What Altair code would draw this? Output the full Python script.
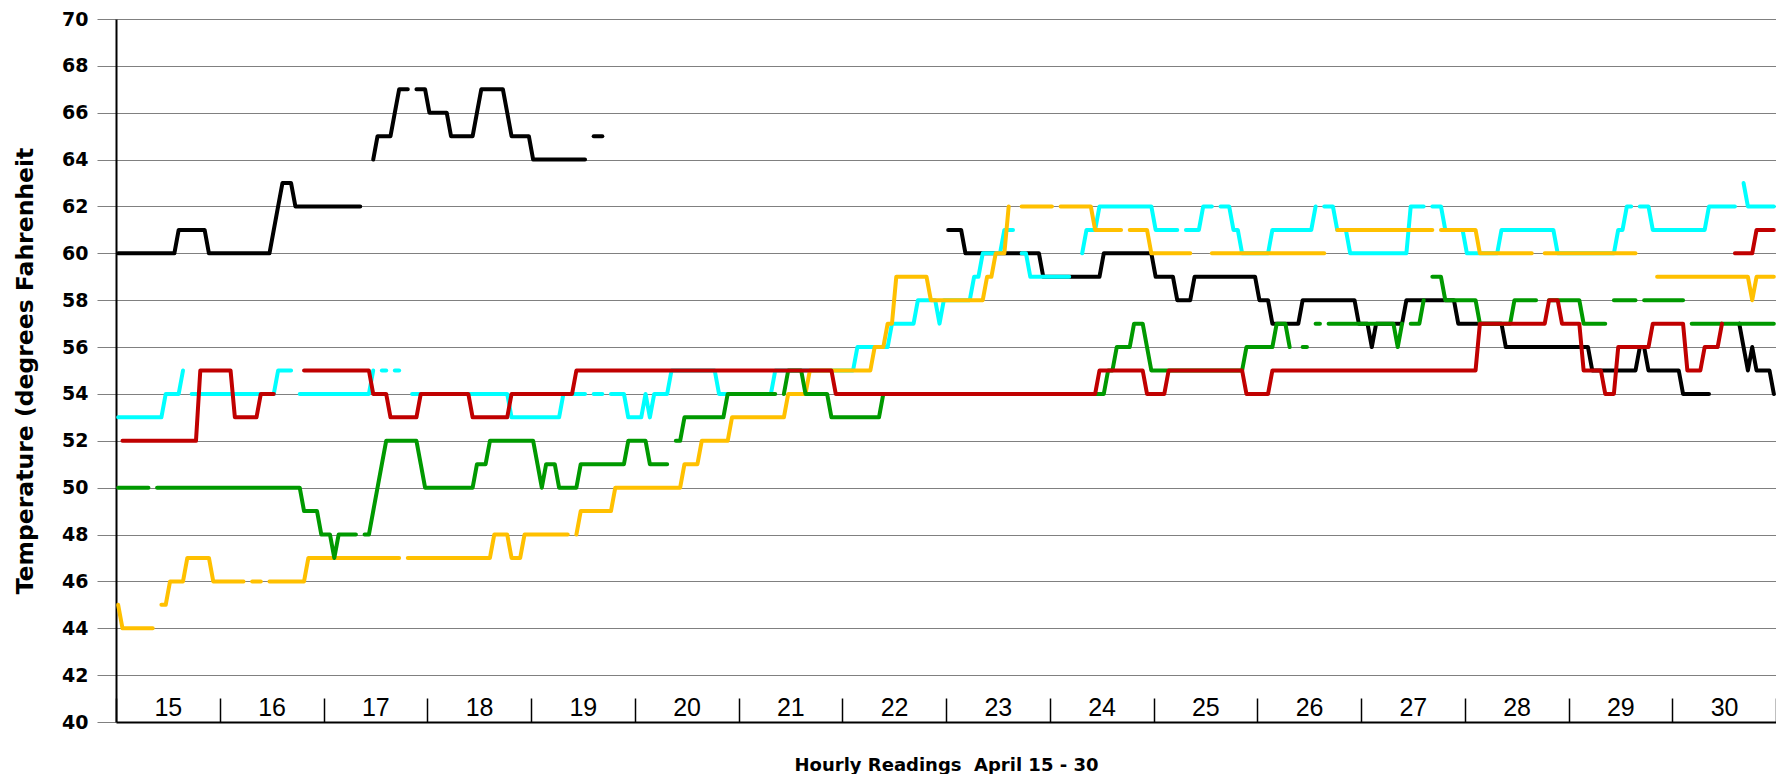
import altair as alt
import pandas as pd

N = None

DAYS = [15, 16, 17, 18, 19, 20, 21, 22, 23, 24, 25, 26, 27, 28, 29, 30]
Y_TICKS = [40, 42, 44, 46, 48, 50, 52, 54, 56, 58, 60, 62, 64, 66, 68, 70]

# Hourly readings, one row of 24 values per day (April 15 ... 30); None = missing reading
BLACK = [
    [60,60,60,60,60,60,60,60,60,60,60,60,60,60,61,61,61,61,61,61,61,60,60,60],
    [60,60,60,60,60,60,60,60,60,60,60,60,61,62,63,63,63,62,62,62,62,62,62,62],
    [62,62,62,62,62,62,62,62,62,N,N,64,65,65,65,65,66,67,67,67,N,67,67,67],
    [66,66,66,66,66,65,65,65,65,65,65,66,67,67,67,67,67,67,66,65,65,65,65,65],
    [64,64,64,64,64,64,64,64,64,64,64,64,64,N,65,65,65,N,N,N,N,N,N,N],
    [N,N,N,N,N,N,N,N,N,N,N,N,N,N,N,N,N,N,N,N,N,N,N,N],
    [N,N,N,N,N,N,N,N,N,N,N,N,N,N,N,N,N,N,N,N,N,N,N,N],
    [N,N,N,N,N,N,N,N,N,N,N,N,N,N,N,N,N,N,N,N,N,N,N,N],
    [61,61,61,61,60,60,60,60,60,60,60,60,60,60,60,60,60,60,60,60,60,60,59,59],
    [59,59,59,59,59,59,59,59,59,59,59,59,60,60,60,60,60,60,60,60,60,60,60,60],
    [59,59,59,59,59,58,58,58,58,59,59,59,59,59,59,59,59,59,59,59,59,59,59,59],
    [58,58,58,57,57,57,57,57,57,57,58,58,58,58,58,58,58,58,58,58,58,58,58,57],
    [57,57,56,57,57,57,57,57,57,57,58,58,58,58,58,58,58,58,58,58,58,58,57,57],
    [57,57,57,57,57,57,57,57,57,56,56,56,56,56,56,56,56,56,56,56,56,56,56,56],
    [56,56,56,56,56,55,55,55,55,55,55,55,55,55,55,55,56,56,55,55,55,55,55,55],
    [55,55,54,54,54,54,54,54,54,N,N,N,N,N,N,57,56,55,56,55,55,55,55,54],
]

CYAN = [
    [53,53,53,53,53,53,53,53,53,53,53,54,54,54,54,55,N,54,54,54,54,54,54,54],
    [54,54,54,54,54,54,54,54,54,54,54,54,54,55,55,55,55,N,54,54,54,54,54,54],
    [54,54,54,54,54,54,54,54,54,54,54,55,N,55,55,N,55,55,N,N,54,54,54,54],
    [54,54,54,54,54,54,54,54,54,54,54,54,54,54,54,54,54,54,54,53,53,53,53,53],
    [53,53,53,53,53,53,53,54,54,54,54,54,54,N,54,54,54,N,54,54,54,54,53,53],
    [53,53,54,53,54,54,54,54,55,55,55,55,55,55,55,55,55,55,55,54,54,54,54,54],
    [54,54,54,54,54,54,54,54,55,55,55,55,55,55,55,55,55,55,55,55,55,55,55,55],
    [55,55,55,56,56,56,56,56,56,56,56,57,57,57,57,57,57,58,58,58,58,58,57,58],
    [58,58,58,58,58,58,59,59,60,60,60,60,60,61,61,61,N,60,60,59,59,59,59,59],
    [59,59,59,59,59,N,N,60,61,61,61,62,62,62,62,62,62,62,62,62,62,62,62,62],
    [61,61,61,61,61,61,N,61,61,61,61,62,62,62,N,62,62,62,61,61,60,60,60,60],
    [60,60,60,61,61,61,61,61,61,61,61,61,61,62,N,62,62,62,61,61,61,60,60,60],
    [60,60,60,60,60,60,60,60,60,60,60,62,62,62,62,N,62,62,62,61,61,61,61,61],
    [60,60,60,60,60,60,60,60,61,61,61,61,61,61,61,61,61,61,61,61,61,60,60,60],
    [60,60,60,60,60,60,60,60,60,60,60,61,61,62,62,N,62,62,62,61,61,61,61,61],
    [61,61,61,61,61,61,61,61,62,62,62,62,62,62,62,N,63,62,62,62,62,62,62,62],
]

YELLOW = [
    [45,44,44,44,44,44,44,44,44,N,45,45,46,46,46,46,47,47,47,47,47,47,46,46],
    [46,46,46,46,46,46,N,46,46,46,N,46,46,46,46,46,46,46,46,46,47,47,47,47],
    [47,47,47,47,47,47,47,47,47,47,47,47,47,47,47,47,47,47,N,47,47,47,47,47],
    [47,47,47,47,47,47,47,47,47,47,47,47,47,47,47,48,48,48,48,47,47,47,48,48],
    [48,48,48,48,48,48,48,48,48,N,48,49,49,49,49,49,49,49,49,50,50,50,50,50],
    [50,50,50,50,50,50,50,50,50,50,50,51,51,51,51,52,52,52,52,52,52,52,53,53],
    [53,53,53,53,53,53,53,53,53,53,53,54,54,54,54,54,55,55,55,55,55,55,55,55],
    [55,55,55,55,55,55,55,56,56,56,57,57,59,59,59,59,59,59,59,59,58,58,58,58],
    [58,58,58,58,58,58,58,58,58,59,59,60,60,60,62,N,N,62,62,62,62,62,62,62],
    [62,N,62,62,62,62,62,62,62,62,61,61,61,61,61,61,61,N,61,61,61,61,61,60],
    [60,60,60,60,60,60,60,60,60,N,N,N,N,60,60,60,60,60,60,60,60,60,60,60],
    [60,60,60,60,60,60,60,60,60,60,60,60,60,60,60,60,N,N,61,61,61,61,61,61],
    [61,61,61,61,61,61,61,61,61,61,61,61,61,61,61,61,61,N,61,61,61,61,61,61],
    [61,61,61,60,60,60,60,60,60,60,60,60,60,60,60,60,N,N,60,60,60,60,60,60],
    [60,60,60,60,60,60,60,60,60,60,60,60,60,60,60,60,N,N,N,N,59,59,59,59],
    [59,59,59,59,59,59,59,59,59,59,59,59,59,59,59,59,59,59,58,59,59,59,59,59],
]

GREEN = [
    [50,50,50,50,50,50,50,50,N,50,50,50,50,50,50,50,50,50,50,50,50,50,50,50],
    [50,50,50,50,50,50,50,50,50,50,50,50,50,50,50,50,50,50,50,49,49,49,49,48],
    [48,48,47,48,48,48,48,48,N,48,48,49,50,51,52,52,52,52,52,52,52,52,51,50],
    [50,50,50,50,50,50,50,50,50,50,50,51,51,51,52,52,52,52,52,52,52,52,52,52],
    [52,51,50,51,51,51,50,50,50,50,50,51,51,51,51,51,51,51,51,51,51,51,52,52],
    [52,52,52,51,51,51,51,51,N,52,52,53,53,53,53,53,53,53,53,53,53,54,54,54],
    [54,54,54,54,54,54,54,54,54,N,54,55,55,55,55,54,54,54,54,54,54,53,53,53],
    [53,53,53,53,53,53,53,53,53,54,54,54,54,54,54,54,54,54,54,54,54,54,54,54],
    [54,54,54,54,54,54,54,54,54,54,54,54,54,54,54,54,54,54,54,54,54,54,54,54],
    [54,54,54,54,54,54,54,54,54,54,54,54,54,55,55,56,56,56,56,57,57,57,56,55],
    [55,55,55,55,55,55,55,55,55,55,55,55,55,55,55,55,55,55,55,55,55,56,56,56],
    [56,56,56,56,57,57,57,56,N,N,56,56,N,57,57,N,57,57,57,57,57,57,57,57],
    [57,57,57,57,57,57,57,57,56,57,N,57,57,57,58,N,59,59,59,58,58,58,58,58],
    [58,58,58,57,57,57,57,57,57,57,57,58,58,58,58,58,58,N,N,58,58,58,58,58],
    [58,58,58,57,57,57,57,57,57,N,58,58,58,58,58,58,N,58,58,58,58,58,58,58],
    [58,58,58,N,57,57,57,57,57,57,57,57,57,57,57,57,57,57,57,57,57,57,57,57],
]

RED = [
    [N,52,52,52,52,52,52,52,52,52,52,52,52,52,52,52,52,52,52,55,55,55,55,55],
    [55,55,55,53,53,53,53,53,53,54,54,54,54,N,N,N,N,N,N,55,55,55,55,55],
    [55,55,55,55,55,55,55,55,55,55,55,54,54,54,54,53,53,53,53,53,53,53,54,54],
    [54,54,54,54,54,54,54,54,54,54,53,53,53,53,53,53,53,53,53,54,54,54,54,54],
    [54,54,54,54,54,54,54,54,54,54,55,55,55,55,55,55,55,55,55,55,55,55,55,55],
    [55,55,55,55,55,55,55,55,55,55,55,55,55,55,55,55,55,55,55,55,55,55,55,55],
    [55,55,55,55,55,55,55,55,55,55,55,55,55,55,55,55,55,55,55,55,55,55,54,54],
    [54,54,54,54,54,54,54,54,54,54,54,54,54,54,54,54,54,54,54,54,54,54,54,54],
    [54,54,54,54,54,54,54,54,54,54,54,54,54,54,54,54,54,54,54,54,54,54,54,54],
    [54,54,54,54,54,54,54,54,54,54,54,55,55,55,55,55,55,55,55,55,55,55,54,54],
    [54,54,54,55,55,55,55,55,55,55,55,55,55,55,55,55,55,55,55,55,55,54,54,54],
    [54,54,54,55,55,55,55,55,55,55,55,55,55,55,55,55,55,55,55,55,55,55,55,55],
    [55,55,55,55,55,55,55,55,55,55,55,55,55,55,55,55,55,55,55,55,55,55,55,55],
    [55,55,55,57,57,57,57,57,57,57,57,57,57,57,57,57,57,57,57,58,58,58,57,57],
    [57,57,57,55,55,55,55,55,54,54,54,56,56,56,56,56,56,56,56,57,57,57,57,57],
    [57,57,57,55,55,55,55,56,56,56,56,57,N,N,60,60,60,60,60,61,61,61,61,61],
]

# drawing order: first is drawn at the bottom
SERIES = [
    ("black", BLACK, "#000000"),
    ("cyan", CYAN, "#00FFFF"),
    ("yellow", YELLOW, "#FFC000"),
    ("green", GREEN, "#009900"),
    ("red", RED, "#C00000"),
]

HOURS_PER_DAY = 24
for name, rows, _ in SERIES:
    assert len(rows) == len(DAYS), name
    for k, r in enumerate(rows):
        assert len(r) == HOURS_PER_DAY, (name, DAYS[k], len(r))


def to_frame(rows):
    """Long table of readings; a new path segment starts after each missing reading."""
    recs = []
    seg = 0
    gap = True
    flat = [v for r in rows for v in r]
    for i, v in enumerate(flat):
        if v is None:
            gap = True
            continue
        if gap:
            seg += 1
            gap = False
        recs.append({"hour": i + 0.5, "temp": v, "seg": seg})
    return pd.DataFrame(recs)


TOTAL = HOURS_PER_DAY * len(DAYS)
EDGES = [HOURS_PER_DAY * k for k in range(len(DAYS) + 1)]
CENTERS = [e + HOURS_PER_DAY // 2 for e in EDGES[:-1]]
X_VALUES = sorted(EDGES + CENTERS)

PLOT_W = 1660
PLOT_H = 703

x_scale = alt.Scale(domain=[0, TOTAL], nice=False, zero=False)
y_scale = alt.Scale(domain=[Y_TICKS[0], Y_TICKS[-1]], nice=False, zero=False)

label_expr = (
    f"datum.value % {HOURS_PER_DAY} == {HOURS_PER_DAY // 2} ? "
    f"'' + ({DAYS[0]} + floor(datum.value / {HOURS_PER_DAY})) : ''"
)

x_axis = alt.Axis(
    values=X_VALUES,
    orient="bottom",
    offset=-24,
    domain=False,
    grid=True,
    gridColor="#808080",
    gridWidth=1,
    gridOpacity=alt.condition(f"datum.value == {TOTAL}", alt.value(1), alt.value(0)),
    ticks=True,
    tickSize=24,
    tickColor="#000000",
    tickWidth=1.5,
    tickOpacity=alt.condition(f"datum.value % {HOURS_PER_DAY} == 0", alt.value(1), alt.value(0)),
    labelExpr=label_expr,
    labelFont="Liberation Sans",
    labelFontSize=25,
    labelColor="#000000",
    labelBaseline="middle",
    labelPadding=-15,
    labelFlush=False,
    labelOverlap=False,
    title="Hourly Readings\u00a0 April 15 - 30",
    titleFont="DejaVu Sans",
    titleFontSize=18,
    titleFontWeight="bold",
    titleColor="#000000",
    titleY=72,
    titleBaseline="alphabetic",
)

y_axis = alt.Axis(
    values=Y_TICKS,
    domain=True,
    domainColor="#000000",
    domainWidth=2,
    ticks=True,
    tickSize=19,
    tickColor="#808080",
    tickWidth=1,
    grid=True,
    gridColor=alt.condition("datum.value == 40", alt.value("#000000"), alt.value("#808080")),
    gridWidth=alt.condition("datum.value == 40", alt.value(2), alt.value(1)),
    labelFont="DejaVu Sans",
    labelFontSize=19,
    labelFontWeight="bold",
    labelColor="#000000",
    labelPadding=9,
    title="Temperature (degrees Fahrenheit",
    titleFont="DejaVu Sans",
    titleFontSize=23.5,
    titleFontWeight="bold",
    titleColor="#000000",
    titleAngle=270,
    titleX=-84,
    titleY=PLOT_H / 2,
    titleBaseline="alphabetic",
    titleAlign="center",
)

layers = []
for name, rows, color in SERIES:
    layers.append(
        alt.Chart(to_frame(rows))
        .mark_line(color=color, strokeWidth=4, strokeCap="round", strokeJoin="round")
        .encode(
            x=alt.X("hour:Q", scale=x_scale, axis=x_axis),
            y=alt.Y("temp:Q", scale=y_scale, axis=y_axis),
            detail="seg:N",
        )
    )

chart = (
    alt.layer(*layers)
    .properties(
        width=PLOT_W,
        height=PLOT_H,
        padding={"left": 108, "top": 11, "right": 0, "bottom": 52},
        autosize=alt.AutoSizeParams(type="none"),
    )
    .configure_view(stroke="transparent")
)

chart.save("out.html", embed_options={"renderer": "svg", "actions": False})
